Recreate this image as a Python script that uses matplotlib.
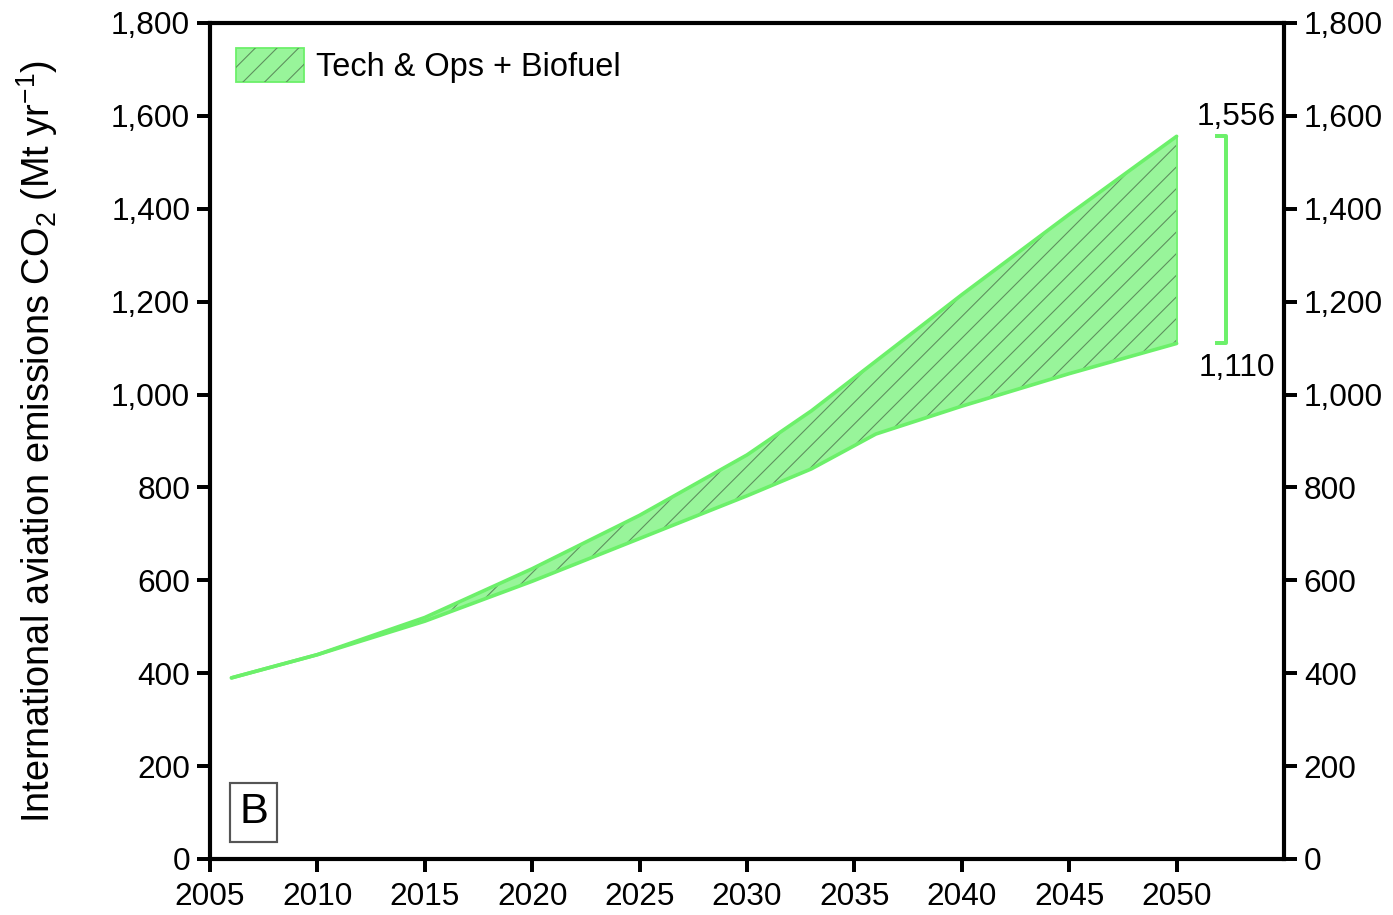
import matplotlib
matplotlib.use("Agg")
import matplotlib.pyplot as plt
from matplotlib.patches import Patch
from matplotlib.legend_handler import HandlerTuple
from matplotlib.ticker import FuncFormatter

plt.rcParams['font.family'] = ['Liberation Sans', 'DejaVu Sans']
plt.rcParams['hatch.linewidth'] = 0.6
plt.rcParams['mathtext.fontset'] = 'custom'
plt.rcParams['mathtext.rm'] = 'Liberation Sans'
plt.rcParams['mathtext.it'] = 'Liberation Sans'

years = [2006, 2010, 2015, 2020, 2025, 2030, 2033, 2036, 2040, 2045, 2050]
upper = [390, 440, 520, 625, 740, 870, 965, 1072, 1215, 1388, 1556]
lower = [390, 440, 512, 598, 690, 782, 840, 915, 975, 1045, 1110]

xticks = [2005, 2010, 2015, 2020, 2025, 2030, 2035, 2040, 2045, 2050]
yticks = [0, 200, 400, 600, 800, 1000, 1200, 1400, 1600, 1800]
series_label = "Tech & Ops + Biofuel"
end_high, end_low = 1556, 1110

DPI = 130
fig = plt.figure(figsize=(1393 / DPI, 915 / DPI), dpi=DPI)
ax = fig.add_axes([210 / 1393, 56 / 915, (1284 - 210) / 1393, (859 - 23) / 915])

fill_color = '#98f59a'
edge_color = '#6cf06a'
hatch_color = '#5d8f5d'
ax.fill_between(years, lower, upper, facecolor=fill_color, edgecolor='none', zorder=2)
ax.fill_between(years, lower, upper, facecolor='none', edgecolor=hatch_color, hatch='//',
                linewidth=0, zorder=3)
ax.plot(years, upper, color=edge_color, lw=2.0, zorder=4, solid_capstyle='round')
ax.plot(years, lower, color=edge_color, lw=2.0, zorder=4, solid_capstyle='round')
ax.plot([years[-1], years[-1]], [lower[-1], upper[-1]], color=edge_color, lw=1.0, zorder=4)

# bracket
bx = 2052.3
ax.plot([bx - 0.4, bx, bx, bx - 0.4], [end_low, end_low, end_high, end_high],
        color=edge_color, lw=2.2, zorder=4, clip_on=False)
ax.text(2054.6, end_high + 42, f"{end_high:,}", ha='right', va='center', fontsize=17.5)
ax.text(2054.6, end_low - 53, f"{end_low:,}", ha='right', va='center', fontsize=17.5)

ax.set_xlim(2005, 2055)
ax.set_ylim(0, 1800)
ax.set_xticks(xticks)
ax.set_yticks(yticks)
ax.yaxis.set_major_formatter(FuncFormatter(lambda v, p: f"{int(v):,}"))
ax.tick_params(axis='both', which='major', direction='out', length=7, width=2.2,
               labelsize=17.5, pad=4)
ax.tick_params(axis='x', pad=6)
ax.tick_params(axis='y', right=True, labelright=True)
for s in ax.spines.values():
    s.set_linewidth(2.3)

ax.set_ylabel(r"International aviation emissions CO$_2$ (Mt yr$^{-1}$)", fontsize=21, labelpad=28)

h_fill = Patch(facecolor=fill_color, edgecolor=edge_color, linewidth=1.0)
h_hatch = Patch(facecolor='none', edgecolor=hatch_color, hatch='//', linewidth=0)
leg = ax.legend([(h_fill, h_hatch)], [series_label], loc='upper left', frameon=False,
                fontsize=18, handlelength=2.1, handleheight=1.25, handletextpad=0.35,
                borderaxespad=0.0, bbox_to_anchor=(0.012, 0.986),
                handler_map={tuple: HandlerTuple(ndivide=1, pad=0)})

ax.text(0.0405, 0.056, "B", transform=ax.transAxes, ha='center', va='center', fontsize=24,
        bbox=dict(boxstyle='square,pad=0.22', facecolor='white', edgecolor='#555555', lw=1.2))

fig.savefig("out.png", dpi=DPI)
